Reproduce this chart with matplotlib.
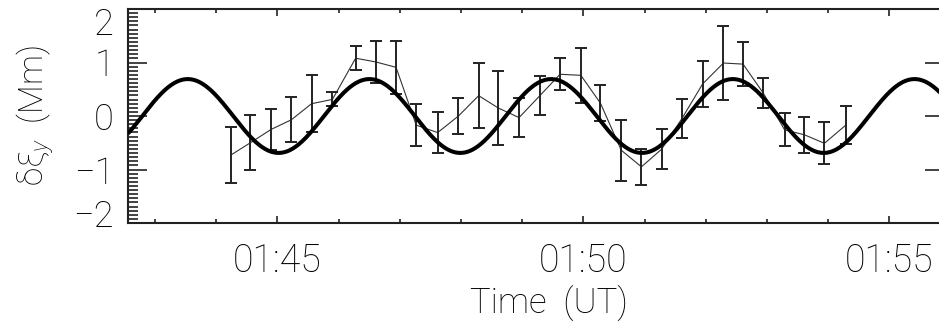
import numpy as np
import matplotlib
matplotlib.use("Agg")
import matplotlib.pyplot as plt
import matplotlib.transforms as mtransforms
from matplotlib.ticker import MultipleLocator, FuncFormatter

# observation times, minutes after 01:00 UT
obs_time = [44.24, 44.56, 44.90, 45.23, 45.56, 45.90, 46.28, 46.61, 46.94, 47.27,
            47.62, 47.96, 48.29, 48.61, 48.95, 49.29, 49.62, 49.96, 50.28, 50.62,
            50.95, 51.28, 51.61, 51.95, 52.29, 52.61, 52.94, 53.29, 53.61, 53.94,
            54.29]
# transverse displacement (Mm) and its error
obs_disp = [-0.73, -0.50, -0.25, -0.07, 0.23, 0.31, 1.08, 1.01, 0.91, -0.17,
            -0.31, 0.00, 0.38, 0.15, -0.03, 0.38, 0.78, 0.76, 0.24, -0.64,
            -0.95, -0.62, -0.05, 0.60, 0.99, 0.97, 0.43, -0.26, -0.35, -0.51,
            -0.17]
obs_err = [0.52, 0.51, 0.38, 0.42, 0.53, 0.13, 0.22, 0.39, 0.50, 0.40,
           0.38, 0.34, 0.61, 0.70, 0.37, 0.37, 0.30, 0.52, 0.34, 0.57,
           0.34, 0.37, 0.36, 0.43, 0.69, 0.41, 0.28, 0.31, 0.34, 0.39,
           0.36]

# sine fit parameters
fit_amp = 0.69       # Mm
fit_period = 2.969   # min
fit_t0 = 45.763      # upward zero crossing, min

xlim = (42.56, 55.894)
ylim = (-2.0, 2.0)
ytick_vals = [-2, -1, 0, 1, 2]
xtick_vals = [45, 50, 55]

plt.rcParams['font.family'] = ['Roboto', 'DejaVu Sans']
plt.rcParams['font.weight'] = 'light'
plt.rcParams['axes.labelweight'] = 'light'
plt.rcParams['mathtext.fontset'] = 'custom'
plt.rcParams['mathtext.rm'] = 'Roboto:light'
plt.rcParams['mathtext.it'] = 'Roboto:italic:light'

fig = plt.figure(figsize=(9.39, 3.22), dpi=100)
W, H = 939, 322
ax = fig.add_axes([128 / W, (H - 223) / H, (944 - 128) / W, (223 - 9) / H])

t_fit = np.linspace(xlim[0], xlim[1], 800)
fit_curve = fit_amp * np.sin(2 * np.pi * (t_fit - fit_t0) / fit_period)
ax.plot(t_fit, fit_curve, color='black', lw=2.9, solid_capstyle='butt', zorder=3)

ax.plot(obs_time, obs_disp, color='#333333', lw=0.8, zorder=2)
ax.errorbar(obs_time, obs_disp, yerr=obs_err, fmt='none', ecolor='#222222',
            elinewidth=1.4, capsize=4, capthick=1.4, zorder=2)

ax.set_xlim(*xlim)
ax.set_ylim(*ylim)
ax.set_xticks(xtick_vals)
ax.xaxis.set_minor_locator(MultipleLocator(1))
ax.xaxis.set_major_formatter(FuncFormatter(lambda v, p: f"01:{int(round(v)):02d}"))
ax.set_yticks(ytick_vals)
ax.yaxis.set_minor_locator(MultipleLocator(1 / 13))
ax.yaxis.set_major_formatter(FuncFormatter(lambda v, p: f"{int(round(v))}".replace('-', '\u2212')))

ax.tick_params(axis='x', which='both', direction='in', top=True, bottom=True,
               labelsize=27, pad=14, width=1.2, color='#222222')
ax.tick_params(axis='x', which='major', length=5)
ax.tick_params(axis='x', which='minor', length=3)
ax.tick_params(axis='y', which='both', direction='in', left=True, right=True,
               labelsize=26, pad=10, width=1.2, color='#222222')
ax.tick_params(axis='y', which='major', length=14)
ax.tick_params(axis='y', which='minor', length=7, right=False)

for sp in ax.spines.values():
    sp.set_linewidth(1.5)
    sp.set_color('#222222')

# end labels sit inside the frame, as in the original
fig.canvas.draw()
for lab in ax.get_yticklabels():
    txt = lab.get_text().replace('\u2212', '-')
    if txt == '2':
        lab.set_transform(lab.get_transform() + mtransforms.ScaledTranslation(0, -12 / 100, fig.dpi_scale_trans))
    elif txt == '-2':
        lab.set_transform(lab.get_transform() + mtransforms.ScaledTranslation(0, 10 / 100, fig.dpi_scale_trans))

ax.set_xlabel("Time  (UT)", fontsize=25, fontweight='light')
ax.xaxis.set_label_coords(0.516, -0.295)
ax.set_ylabel(r"δξ$_y$  (Mm)", fontsize=24, fontweight='light')
ax.yaxis.set_label_coords(-0.088, 0.5)

fig.savefig("out.png", dpi=100)
